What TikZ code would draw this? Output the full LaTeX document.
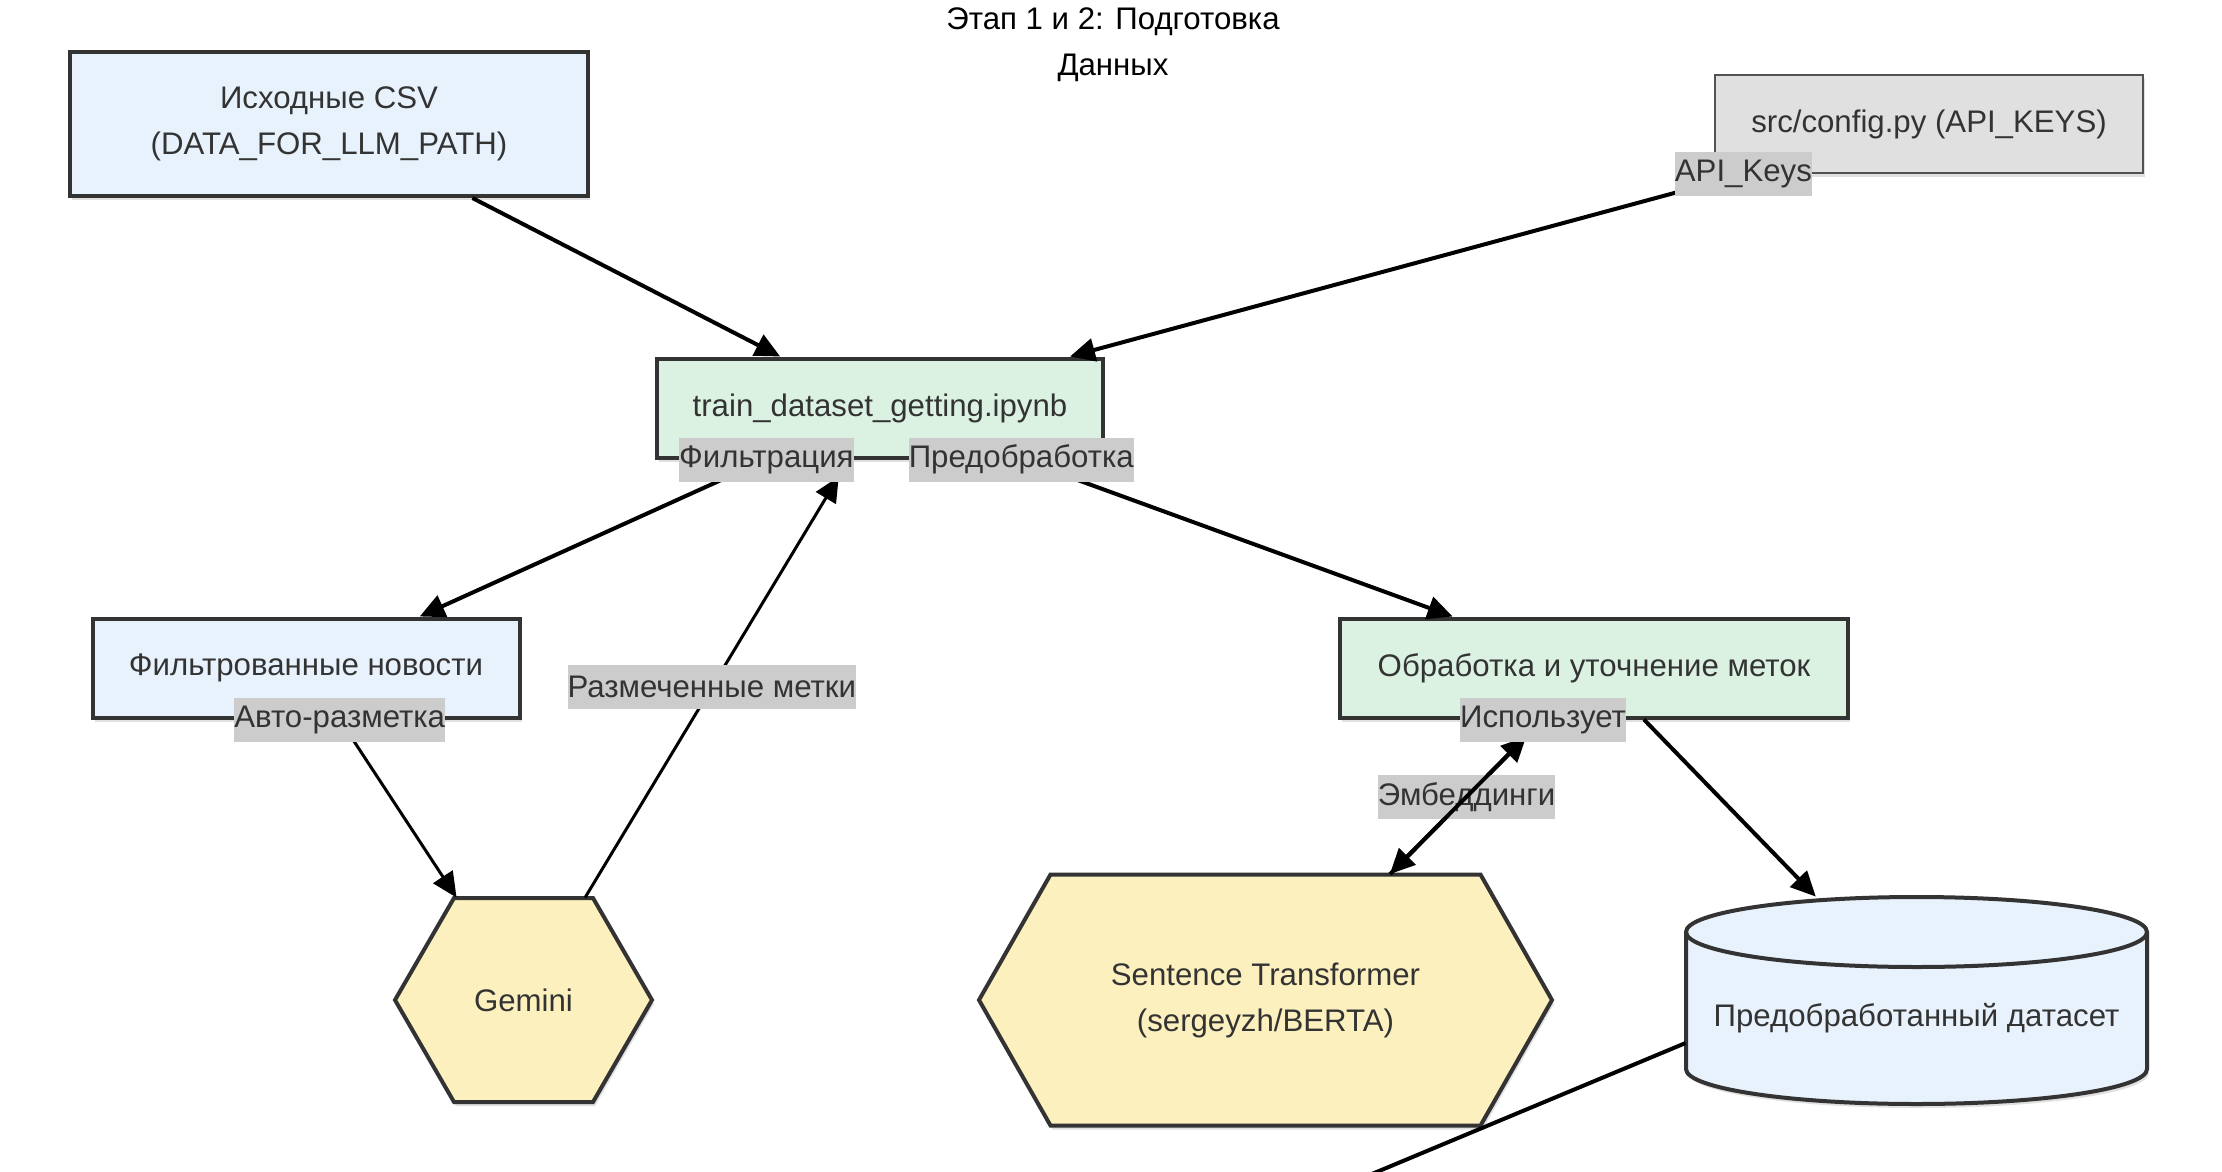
\documentclass[tikz,border=0pt]{standalone}
\usepackage{fontspec}
\setmainfont{Liberation Sans}
\usetikzlibrary{calc}
\usetikzlibrary{arrows.meta}
\usetikzlibrary{shadows}
\definecolor{NodeBlue}{HTML}{E8F2FC}
\definecolor{NodeGreen}{HTML}{DBF2E3}
\definecolor{NodeYellow}{HTML}{FCF0BE}
\definecolor{NodeGrey}{HTML}{E0E0E0}
\definecolor{LabelGrey}{HTML}{CCCCCC}
\definecolor{Ink}{HTML}{333333}
\def\BorderWidth{2pt}
\def\CylRx{115.25pt}
\def\CylRy{17.5pt}

\tikzset{
  soft shadow/.style={drop shadow={shadow xshift=1pt,shadow yshift=-2pt,opacity=0.12,fill=black}},
  box/.style={draw=Ink, line width=\BorderWidth, text=Ink, align=center,
    minimum height=51.5pt, soft shadow},
  shapetext/.style={draw=none, text=Ink, align=center},
  edgelabel/.style={fill=LabelGrey, text=Ink, inner xsep=0pt, inner ysep=0pt,
    minimum height=22pt},
  flow/.style={-{Triangle[length=12.5pt,width=11.5pt]}, line width=2pt},
  thinflow/.style={flow, line width=1.5pt},
}

\begin{document}
\begin{tikzpicture}[x=1pt,y=-1pt,
    every node/.style={font=\fontsize{15.6}{23}\selectfont}]
  \clip (0,0) rectangle (1111,586);
  % title
  \node[text=black, align=center] (title) at (556.5,22.5) {Этап 1 и 2: Подготовка\\Данных};
  % boxes
  \node[box, fill=NodeBlue, minimum width=259pt, minimum height=72pt] (csv) at (164.5,62)
    {Исходные CSV\\(DATA\_FOR\_LLM\_PATH)};
  \node[box, fill=NodeGrey, draw=Ink!85, line width=1.3pt, minimum width=214pt,
    minimum height=49pt] (config) at (964.5,62) {src/config.py (API\_KEYS)};
  \node[box, fill=NodeGreen, minimum width=223pt, minimum height=49.5pt] (train) at (440,204)
    {train\_dataset\_getting.ipynb};
  \node[box, fill=NodeBlue, minimum width=213.5pt, minimum height=49.5pt] (filtered) at (153,334)
    {Фильтрованные новости};
  \node[box, fill=NodeGreen, minimum width=254pt, minimum height=49.5pt] (refine) at (797,334)
    {Обработка и уточнение меток};
  % hexagons
  \coordinate (G) at (261.75,500);
  \filldraw[fill=NodeYellow, draw=Ink, line width=\BorderWidth, soft shadow]
    ($(G)+(-64.25,0)$) -- ($(G)+(-34.75,-51)$) -- ($(G)+(34.75,-51)$)
    -- ($(G)+(64.25,0)$) -- ($(G)+(34.75,51)$) -- ($(G)+(-34.75,51)$) -- cycle;
  \node[shapetext, minimum width=128.5pt, minimum height=102pt] (gemini) at (G) {Gemini};
  \coordinate (S) at (632.75,500);
  \filldraw[fill=NodeYellow, draw=Ink, line width=\BorderWidth, soft shadow]
    ($(S)+(-143.25,0)$) -- ($(S)+(-107.5,-62.75)$) -- ($(S)+(107.5,-62.75)$)
    -- ($(S)+(143.25,0)$) -- ($(S)+(107.5,62.75)$) -- ($(S)+(-107.5,62.75)$) -- cycle;
  \node[shapetext, minimum width=286.5pt, minimum height=125.5pt] (st) at (S)
    {Sentence Transformer\\(sergeyzh/BERTA)};
  % cylinder
  \coordinate (D) at (958.25,500.25);
  \filldraw[fill=NodeBlue, draw=Ink, line width=\BorderWidth, soft shadow]
    ($(D)+(-115.25,-34.25)$) -- ($(D)+(-115.25,34.25)$)
    arc[start angle=180, end angle=360, x radius=\CylRx, y radius=\CylRy]
    -- ($(D)+(115.25,-34.25)$)
    arc[start angle=0, end angle=180, x radius=\CylRx, y radius=\CylRy] -- cycle;
  \draw[draw=Ink, line width=\BorderWidth] ($(D)+(-115.25,-34.25)$)
    arc[start angle=180, end angle=360, x radius=\CylRx, y radius=\CylRy];
  \node[shapetext, minimum width=230.5pt, minimum height=103.5pt] (dataset) at (D) {};
  \node[shapetext] (datasettext) at ($(D)+(0,8.75)$) {Предобработанный датасет};
  \coordinate (nextstep) at (650,602);
  % edges
  \draw[flow] (csv) -- (train);
  \draw[thinflow, shorten >=10pt] (gemini) -- (train)
    node[edgelabel, pos=0.48] (marked) {Размеченные метки};
  \draw[flow, shorten >=12pt] (st) -- (refine)
    node[edgelabel, pos=0.5] (embed) {Эмбеддинги};
  \draw[flow] (refine) -- (dataset);
  \draw[flow] ($(dataset.west)+(0,21.25)$) -- (nextstep);
  % labelled edges
  \draw[flow] (config) -- (train) node[edgelabel, pos=0] (apikeys) {API\_Keys};
  \draw[flow] (train) -- (filtered) node[edgelabel, pos=0] (filter) {Фильтрация};
  \draw[flow] (train) -- (refine) node[edgelabel, pos=0] (preproc) {Предобработка};
  \draw[thinflow] (filtered) -- (gemini) node[edgelabel, pos=0] (autolabel) {Авто-разметка};
  \draw[flow] (refine) -- (st) node[edgelabel, pos=0] (uses) {Использует};
\end{tikzpicture}
\end{document}
